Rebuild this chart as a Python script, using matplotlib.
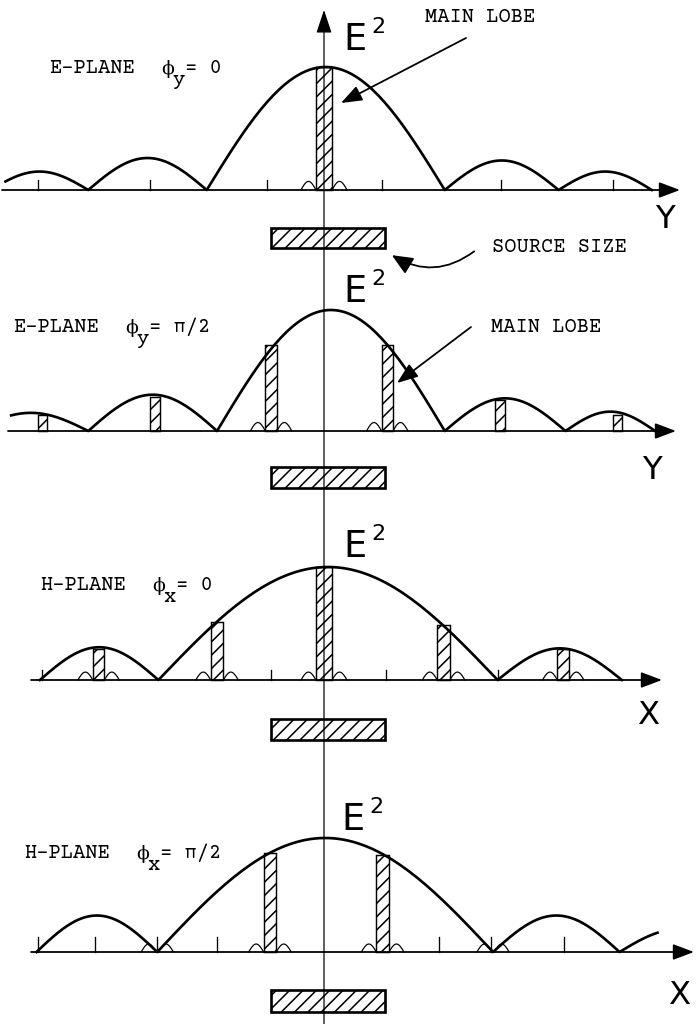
import numpy as np
import matplotlib.pyplot as plt
from matplotlib.patches import Rectangle, FancyArrowPatch

plt.rcParams['hatch.linewidth'] = 1.4

W, H, DPI = 696, 1024, 80
X0, XU = 324, 115          # axis position and tick spacing (px)

# E-PLANE, phi_y = 0
ey0_nulls = [-2.90, -2.05, -1.02, 1.05, 2.04, 2.85]
ey0_peaks = [0.15, 0.26, 1.00, 0.24, 0.15]
ey0_span = [-2.77, 2.85]
ey0_bar_x = [0.0]
ey0_bar_w = [0.14]
ey0_bar_h = [1.00]
ey0_feet = [0.0]
ey0_ticks = [-2.49, -1.51, -0.50, 0.50, 1.54, 2.51]

# E-PLANE, phi_y = pi/2
ey2_nulls = [-3.05, -2.05, -0.93, 1.05, 2.10, 2.88]
ey2_peaks = [0.15, 0.30, 1.00, 0.27, 0.16]
ey2_span = [-2.72, 2.88]
ey2_bar_x = [-2.45, -1.47, -0.46, 0.55, 1.53, 2.55]
ey2_bar_w = [0.08, 0.08, 0.10, 0.10, 0.08, 0.08]
ey2_bar_h = [0.13, 0.28, 0.71, 0.71, 0.26, 0.13]
ey2_feet = [-0.46, 0.55]
ey2_ticks = []

# H-PLANE, phi_x = 0
hx0_nulls = [-2.47, -1.44, 1.51, 2.59]
hx0_peaks = [0.29, 1.00, 0.28]
hx0_span = [-2.47, 2.59]
hx0_bar_x = [-1.96, -0.93, 0.0, 1.04, 2.08]
hx0_bar_w = [0.10, 0.11, 0.14, 0.11, 0.10]
hx0_bar_h = [0.27, 0.51, 1.00, 0.49, 0.27]
hx0_feet = [-1.96, -0.93, 0.0, 1.04, 2.08]
hx0_ticks = [-2.45, -0.46, 0.54, 1.51]

# H-PLANE, phi_x = pi/2
hx2_nulls = [-2.50, -1.45, 1.47, 2.57, 3.60]
hx2_peaks = [0.32, 1.00, 0.32, 0.20]
hx2_span = [-2.50, 2.90]
hx2_bar_x = [-0.47, 0.51]
hx2_bar_w = [0.11, 0.11]
hx2_bar_h = [0.87, 0.85]
hx2_feet = [-1.45, -0.47, 0.51, 1.47]
hx2_ticks = [-2.49, -1.99, -1.45, -0.93, 1.00, 1.45, 2.09]

source_span = [-0.46, 0.53]

panels = [
    dict(nulls=ey0_nulls, peaks=ey0_peaks, span=ey0_span, bar_x=ey0_bar_x,
         bar_w=ey0_bar_w, bar_h=ey0_bar_h, feet=ey0_feet, ticks=ey0_ticks, tick_h=0.08,
         top=0, bot=260, base=190, unit=123, start=2, tip=680, box=(228, 248),
         label=('E-PLANE', 'y', '= 0'), lab_xy=(49, 73),
         e2=(343, 50), axl=('Y', 655, 228)),
    dict(nulls=ey2_nulls, peaks=ey2_peaks, span=ey2_span, bar_x=ey2_bar_x,
         bar_w=ey2_bar_w, bar_h=ey2_bar_h, feet=ey2_feet, ticks=ey2_ticks, tick_h=0.08,
         top=260, bot=500, base=431, unit=121, start=8, tip=676, box=(467, 488),
         label=('E-PLANE', 'y', '= \u03c0/2'), lab_xy=(13, 332),
         e2=(343, 302), axl=('Y', 642, 479)),
    dict(nulls=hx0_nulls, peaks=hx0_peaks, span=hx0_span, bar_x=hx0_bar_x,
         bar_w=hx0_bar_w, bar_h=hx0_bar_h, feet=hx0_feet, ticks=hx0_ticks, tick_h=0.09,
         top=500, bot=760, base=680, unit=113, start=31, tip=662, box=(719, 740),
         label=('H-PLANE', 'x', '= 0'), lab_xy=(40, 590),
         e2=(343, 557), axl=('X', 637, 724)),
    dict(nulls=hx2_nulls, peaks=hx2_peaks, span=hx2_span, bar_x=hx2_bar_x,
         bar_w=hx2_bar_w, bar_h=hx2_bar_h, feet=hx2_feet, ticks=hx2_ticks, tick_h=0.13,
         top=760, bot=1024, base=952, unit=114, start=31, tip=694, box=(990, 1012),
         label=('H-PLANE', 'x', '= \u03c0/2'), lab_xy=(24, 858),
         e2=(341, 830), axl=('X', 668, 1004)),
]


def lobe_curve(nulls, peaks, span):
    xs, ys = [], []
    for a, b, p in zip(nulls[:-1], nulls[1:], peaks):
        lo, hi = max(a, span[0]), min(b, span[1])
        t = np.linspace(lo, hi, 80)
        xs.append(t)
        ys.append(p * np.sin(np.pi * (t - a) / (b - a)))
    return np.concatenate(xs), np.concatenate(ys)


# typewriter lettering; Greek letters come from the fallback families
mono = dict(family=['Courier Prime', 'FreeMono', 'DejaVu Sans Mono'], size=18.5, color='k')
phi = dict(family=['DejaVu Serif'], size=17, color='k')
sans = dict(family=['DejaVu Sans'], color='k')
cw = 0.6 * mono['size'] * DPI / 72   # character advance of the mono font, px
arrow = dict(arrowstyle='-|>,head_length=0.8,head_width=0.3', color='k',
             mutation_scale=20, shrinkA=0, shrinkB=0)

fig = plt.figure(figsize=(W / DPI, H / DPI), dpi=DPI)

for p in panels:
    ax = fig.add_axes([0, 1 - p['bot'] / H, 1, (p['bot'] - p['top']) / H])
    ax.set_xlim(-X0 / XU, (W - X0) / XU)
    ax.set_ylim((p['base'] - p['bot']) / p['unit'], (p['base'] - p['top']) / p['unit'])
    ax.axis('off')

    # hatched beams under the pattern
    ax.bar(p['bar_x'], p['bar_h'], width=p['bar_w'], facecolor='white',
           edgecolor='k', hatch='//', lw=1.3, zorder=2)

    # little feet beside each beam
    for c in p['feet']:
        gap = p['bar_w'][p['bar_x'].index(c)] / 2 if c in p['bar_x'] else 0.01
        t = np.linspace(0, 1, 30)
        for side in (-1, 1):
            a = c + side * gap
            ax.plot(a + side * 0.13 * t, 0.07 * np.sin(np.pi * t), color='k',
                    lw=1.1, zorder=3)

    # tick marks on the baseline
    for tx in p['ticks']:
        ax.plot([tx, tx], [0, p['tick_h']], color='k', lw=1.2, zorder=3)

    # E^2 pattern
    x, y = lobe_curve(p['nulls'], p['peaks'], p['span'])
    ax.plot(x, y, color='k', lw=2.4, solid_joinstyle='round', zorder=4)

    # baseline with arrow
    ax.annotate('', xy=((p['tip'] - X0) / XU, 0), xytext=((p['start'] - X0) / XU, 0),
                arrowprops=dict(arrow, lw=1.6), zorder=3)

    # source size box
    b0, b1 = p['box']
    ax.add_patch(Rectangle((source_span[0], (p['base'] - b1) / p['unit']),
                           source_span[1] - source_span[0], (b1 - b0) / p['unit'],
                           facecolor='white', edgecolor='k', hatch='//', lw=2.4, zorder=3))

# overlay for the vertical axis and the lettering
ov = fig.add_axes([0, 0, 1, 1], zorder=5)
ov.set_xlim(0, W)
ov.set_ylim(H, 0)
ov.axis('off')
ov.patch.set_visible(False)

ov.annotate('', xy=(X0, 10), xytext=(X0, H + 5),
            arrowprops=dict(arrow, lw=1.1, arrowstyle='-|>,head_length=0.9,head_width=0.3'))

for p in panels:
    lx, ly = p['lab_xy']
    name, sub, rest = p['label']
    ov.text(lx, ly, name, va='baseline', **mono)
    ov.text(lx + 9 * cw + 1, ly + 1, '\u03d5', va='baseline', **phi)
    ov.text(lx + 10 * cw, ly + 12, sub, va='baseline', **mono)
    ov.text(lx + 11 * cw, ly, rest, va='baseline', **mono)
    ex, ey = p['e2']
    ov.text(ex, ey, 'E', va='baseline', size=33, **sans)
    ov.text(ex + 28, ey - 17, '2', va='baseline', size=20, **sans)
    ch, ax_x, ax_y = p['axl']
    ov.text(ax_x, ax_y, ch, va='baseline', size=29, **sans)

ov.text(425, 22, 'MAIN LOBE', va='baseline', **mono)
ov.annotate('', xy=(341, 103), xytext=(466, 38),
            arrowprops=dict(arrow, lw=1.6))
ov.text(491, 332, 'MAIN LOBE', va='baseline', **mono)
ov.annotate('', xy=(397, 383), xytext=(471, 327),
            arrowprops=dict(arrow, lw=1.6))

ov.text(492, 252, 'SOURCE SIZE', va='baseline', **mono)
ov.add_patch(FancyArrowPatch((476, 250), (390, 254), connectionstyle='arc3,rad=-0.35',
                             arrowstyle='-|>,head_length=0.8,head_width=0.35',
                             mutation_scale=20, lw=1.6, color='k'))

fig.savefig('out.png', dpi=DPI)
